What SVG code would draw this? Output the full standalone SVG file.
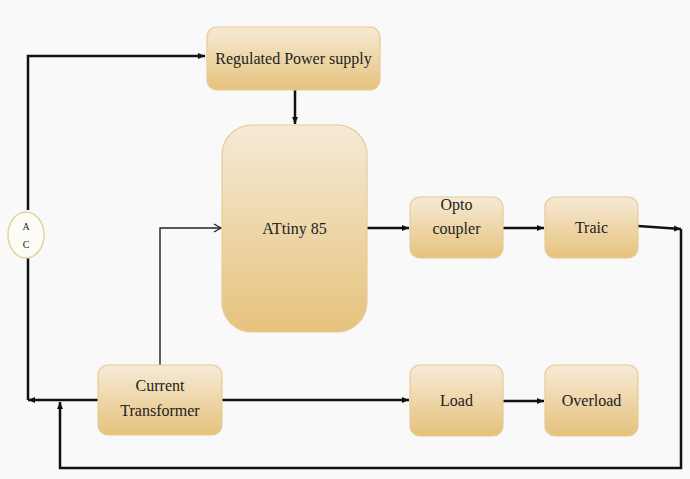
<svg xmlns="http://www.w3.org/2000/svg" width="690" height="479" viewBox="0 0 690 479">
<defs>
<linearGradient id="g" x1="0" y1="0" x2="0" y2="1">
<stop offset="0" stop-color="#f6ead6"/>
<stop offset="1" stop-color="#e6c27c"/>
</linearGradient>
<marker id="ah" markerWidth="8" markerHeight="8" refX="7" refY="4" orient="auto" markerUnits="userSpaceOnUse">
<path d="M0,1 L7,4 L0,7 Z" fill="#111"/>
</marker>
<marker id="oh" markerWidth="10" markerHeight="10" refX="8" refY="5" orient="auto" markerUnits="userSpaceOnUse">
<path d="M1,1 L8,5 L1,9" fill="none" stroke="#222" stroke-width="1.3"/>
</marker>
</defs>
<style>
.box{fill:url(#g);stroke:#e5cc96;stroke-width:1.2}
.t{font-family:'Liberation Serif','DejaVu Serif',serif;font-size:16px;fill:#222;text-anchor:middle}
.ts{font-family:'Liberation Serif','DejaVu Serif',serif;font-size:10px;fill:#222;text-anchor:middle}
.w{fill:none;stroke:#111;stroke-width:2.5}
.thin{fill:none;stroke:#222;stroke-width:1.4}
</style>
<rect width="690" height="479" fill="#f9f9f9"/>
<g id="connectors">
<path class="w" d="M28,210 L28,56 L205,56" marker-end="url(#ah)"/>
<path class="w" d="M295,90 L295,124" marker-end="url(#ah)"/>
<path class="w" d="M98,400 L28,400" marker-end="url(#ah)"/>
<path class="w" d="M28,400 L28,258"/>
<path class="thin" d="M160,365 L160,228 L221,228" marker-end="url(#oh)"/>
<path class="w" d="M367,228 L409,228" marker-end="url(#ah)"/>
<path class="w" d="M503,228 L544,228" marker-end="url(#ah)"/>
<path class="w" d="M638,226 L681,229" marker-end="url(#ah)"/>
<path class="w" d="M681,229 L681,468 L60,468 L60,402" marker-end="url(#ah)"/>
<path class="w" d="M222,400 L409,400" marker-end="url(#ah)"/>
<path class="w" d="M503,401 L544,401" marker-end="url(#ah)"/>
</g>
<g id="ac">
<ellipse cx="26" cy="235" rx="18" ry="23" fill="#fdfdf8" stroke="#e3d39e" stroke-width="1.5"/>
<text class="ts" x="26" y="230">A</text>
<text class="ts" x="26" y="248">C</text>
</g>
<g id="rps">
<rect class="box" x="207" y="27" width="173" height="63" rx="10"/>
<text class="t" x="293.5" y="64">Regulated Power supply</text>
</g>
<g id="attiny">
<rect class="box" x="222" y="125" width="145" height="207" rx="30"/>
<text class="t" x="294.5" y="234">ATtiny 85</text>
</g>
<g id="ct">
<rect class="box" x="98" y="365" width="124" height="70" rx="10"/>
<text class="t" x="160" y="391">Current</text>
<text class="t" x="160" y="416">Transformer</text>
</g>
<g id="opto">
<rect class="box" x="410" y="197" width="93" height="61" rx="10"/>
<text class="t" x="456.5" y="210">Opto</text>
<text class="t" x="456.5" y="234">coupler</text>
</g>
<g id="traic">
<rect class="box" x="545" y="197" width="93" height="61" rx="10"/>
<text class="t" x="591.5" y="233">Traic</text>
</g>
<g id="load">
<rect class="box" x="410" y="365" width="93" height="71" rx="10"/>
<text class="t" x="456.5" y="406">Load</text>
</g>
<g id="overload">
<rect class="box" x="545" y="365" width="93" height="71" rx="10"/>
<text class="t" x="591.5" y="406">Overload</text>
</g>
</svg>
